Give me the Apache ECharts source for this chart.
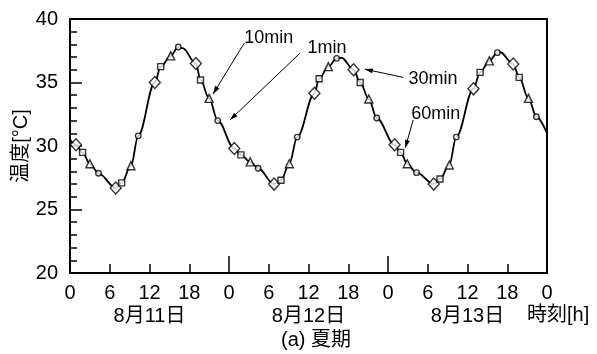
<!DOCTYPE html>
<html>
<head>
<meta charset="utf-8">
<script src="https://cdn.jsdelivr.net/npm/echarts@6/dist/echarts.min.js"></script>
<style>
html,body{margin:0;padding:0;background:#fff;}
#c{width:597px;height:354px;}
</style>
</head>
<body>
<div id="c"></div>
<script>
// ---- data (hours since 8/11 0:00, temperature °C) ----
var xTickLabels = ['0','6','12','18','0','6','12','18','0','6','12','18','0'];
var dayLabels = {12:'8月11日', 36:'8月12日', 60:'8月13日'};

var diamondHours = [0.9, 6.9, 12.8, 19.0, 24.8, 30.8, 36.9, 42.8, 49.0, 54.9, 60.9, 66.9];
var diamondTemps = [30.1, 26.7, 35.0, 36.5, 29.8, 27.0, 34.15, 36.0, 30.1, 27.0, 34.5, 36.45];

var squareHours = [1.9, 7.8, 13.7, 19.7, 25.8, 31.85, 37.6, 43.8, 49.9, 55.85, 61.9, 67.8];
var squareTemps = [29.5, 27.1, 36.25, 35.2, 29.3, 27.3, 35.3, 35.0, 29.5, 27.4, 35.8, 35.4];

var triangleHours = [3.0, 9.2, 15.2, 21.0, 27.2, 33.1, 39.0, 45.1, 50.9, 57.25, 63.3, 69.2];
var triangleTemps = [28.6, 28.45, 37.1, 33.75, 28.75, 28.6, 36.25, 33.7, 28.6, 28.5, 36.7, 33.75];

var circleHours = [4.3, 10.3, 16.35, 22.3, 28.4, 34.3, 40.25, 46.3, 52.3, 58.3, 64.5, 70.4];
var circleTemps = [27.85, 30.8, 37.8, 32.0, 28.25, 30.7, 36.9, 32.2, 27.9, 30.7, 37.35, 32.3];

var curveHours = [0, 0.9, 1.9, 3.0, 4.3, 6.9, 7.8, 9.2, 10.3, 12.8, 13.7, 15.2, 16.35, 17.0, 19.0, 19.7, 21.0, 22.3, 24.8, 25.8, 27.2, 28.4, 30.8, 31.85, 33.1, 34.3, 36.9, 37.6, 39.0, 40.25, 41.0, 42.8, 43.8, 45.1, 46.3, 49.0, 49.9, 50.9, 52.3, 54.9, 55.85, 57.25, 58.3, 60.9, 61.9, 63.3, 64.5, 64.9, 66.9, 67.8, 69.2, 70.4, 72];
var curveTemps = [30.5, 30.1, 29.5, 28.6, 27.85, 26.7, 27.1, 28.45, 30.8, 35.0, 36.25, 37.1, 37.8, 37.7, 36.5, 35.2, 33.75, 32.0, 29.8, 29.3, 28.75, 28.25, 27.0, 27.3, 28.6, 30.7, 34.15, 35.3, 36.25, 36.9, 36.95, 36.0, 35.0, 33.7, 32.2, 30.1, 29.5, 28.6, 27.9, 27.0, 27.4, 28.5, 30.7, 34.5, 35.8, 36.7, 37.35, 37.4, 36.45, 35.4, 33.75, 32.3, 31.0];

// annotations: text position and arrow (from -> to), in data coordinates
var annTexts = ['10min', '1min', '30min', '60min'];
var annTextPos = [[30.0, 38.5], [38.8, 37.7], [54.8, 35.3], [55.2, 32.5]];
var annFrom = [[26.3, 38.1], [34.7, 37.3], [50.3, 35.4], [51.8, 32.05]];
var annTo = [[21.6, 34.1], [24.15, 32.05], [44.5, 36.05], [50.6, 29.85]];

function zip(a, b){ return a.map(function(v,i){ return [v, b[i]]; }); }

var FONT = "'Liberation Sans', 'Noto Sans CJK JP', sans-serif";
var chart = echarts.init(document.getElementById('c'), null, {renderer:'canvas'});

var markerStyle = {color:'#fff', borderColor:'#000', borderWidth:1.4};

chart.setOption({
  animation:false,
  backgroundColor:'#fff',
  grid:{left:70, top:19, right:50, bottom:81, show:true, borderColor:'#000', borderWidth:2, backgroundColor:'transparent', containLabel:false, outerBoundsMode:'none'},
  xAxis:[
    {type:'value', position:'bottom', min:0, max:72, interval:6,
     axisLine:{show:true, lineStyle:{color:'#000', width:2}},
     axisTick:{show:true, inside:true, length:9, lineStyle:{color:'#000', width:1.5}},
     axisLabel:{color:'#000', fontSize:20, fontFamily:FONT, margin:10,
       formatter:function(v){ return xTickLabels[Math.round(v/6)]; }},
     splitLine:{show:false}},
    {type:'value', position:'bottom', min:0, max:72, interval:24,
     axisLine:{show:false},
     axisTick:{show:true, inside:true, length:17, lineStyle:{color:'#000', width:1.5}},
     axisLabel:{show:false}, splitLine:{show:false}},
    {type:'value', position:'bottom', min:0, max:72, interval:12,
     axisLine:{show:false}, axisTick:{show:false},
     axisLabel:{color:'#000', fontSize:20, fontFamily:FONT, margin:33,
       formatter:function(v){ return dayLabels[Math.round(v)] || ''; }},
     splitLine:{show:false}}
  ],
  yAxis:{type:'value', min:20, max:40, interval:5,
    axisLine:{show:true, lineStyle:{color:'#000', width:2}},
    axisTick:{show:true, inside:true, length:12, lineStyle:{color:'#000', width:1.5}},
    minorTick:{show:true, splitNumber:5, length:7, lineStyle:{color:'#000', width:1.5}},
    axisLabel:{color:'#000', fontSize:20, fontFamily:FONT, margin:12},
    splitLine:{show:false}, minorSplitLine:{show:false}},
  series:[
    {type:'line', data:zip(curveHours, curveTemps), smooth:0.35, smoothMonotone:'x', showSymbol:false, symbol:'none',
     lineStyle:{color:'#000', width:1.8}, z:2},
    {type:'scatter', data:zip(diamondHours, diamondTemps), symbol:'diamond', symbolSize:[11,12], itemStyle:markerStyle, z:3},
    {type:'scatter', data:zip(squareHours, squareTemps), symbol:'rect', symbolSize:6, itemStyle:markerStyle, z:3},
    {type:'scatter', data:zip(triangleHours, triangleTemps), symbol:'triangle', symbolSize:8, itemStyle:markerStyle, z:3},
    {type:'scatter', data:zip(circleHours, circleTemps), symbol:'circle', symbolSize:5.5, itemStyle:markerStyle, z:3}
  ]
});

// annotations and texts
var g = [];
for (var i = 0; i < annTexts.length; i++) {
  var tp = chart.convertToPixel({gridIndex:0}, annTextPos[i]);
  var p1 = chart.convertToPixel({gridIndex:0}, annFrom[i]);
  var p2 = chart.convertToPixel({gridIndex:0}, annTo[i]);
  g.push({type:'text', x:tp[0], y:tp[1], style:{text:annTexts[i], fill:'#000', font:'18px ' + FONT, align:'center', verticalAlign:'middle'}});
  g.push({type:'line', shape:{x1:p1[0], y1:p1[1], x2:p2[0], y2:p2[1]}, style:{stroke:'#000', lineWidth:1}});
  var dx = p2[0]-p1[0], dy = p2[1]-p1[1], L = Math.sqrt(dx*dx+dy*dy);
  var ux = dx/L, uy = dy/L, hl = 8, hw = 2.5;
  var bx = p2[0]-ux*hl, by = p2[1]-uy*hl;
  g.push({type:'polygon', shape:{points:[[p2[0],p2[1]],[bx-uy*hw, by+ux*hw],[bx+uy*hw, by-ux*hw]]}, style:{fill:'#000'}});
}
g.push({type:'text', x:21, y:146, rotation:Math.PI/2, style:{text:'温度[°C]', fill:'#000', font:'20px ' + FONT, align:'center', verticalAlign:'middle'}});
g.push({type:'text', x:527, y:315, style:{text:'時刻[h]', fill:'#000', font:'20px ' + FONT, align:'left', verticalAlign:'middle'}});
g.push({type:'text', x:316, y:340, style:{text:'(a) 夏期', fill:'#000', font:'20px ' + FONT, align:'center', verticalAlign:'middle'}});
chart.setOption({graphic:g});
</script>
</body>
</html>
